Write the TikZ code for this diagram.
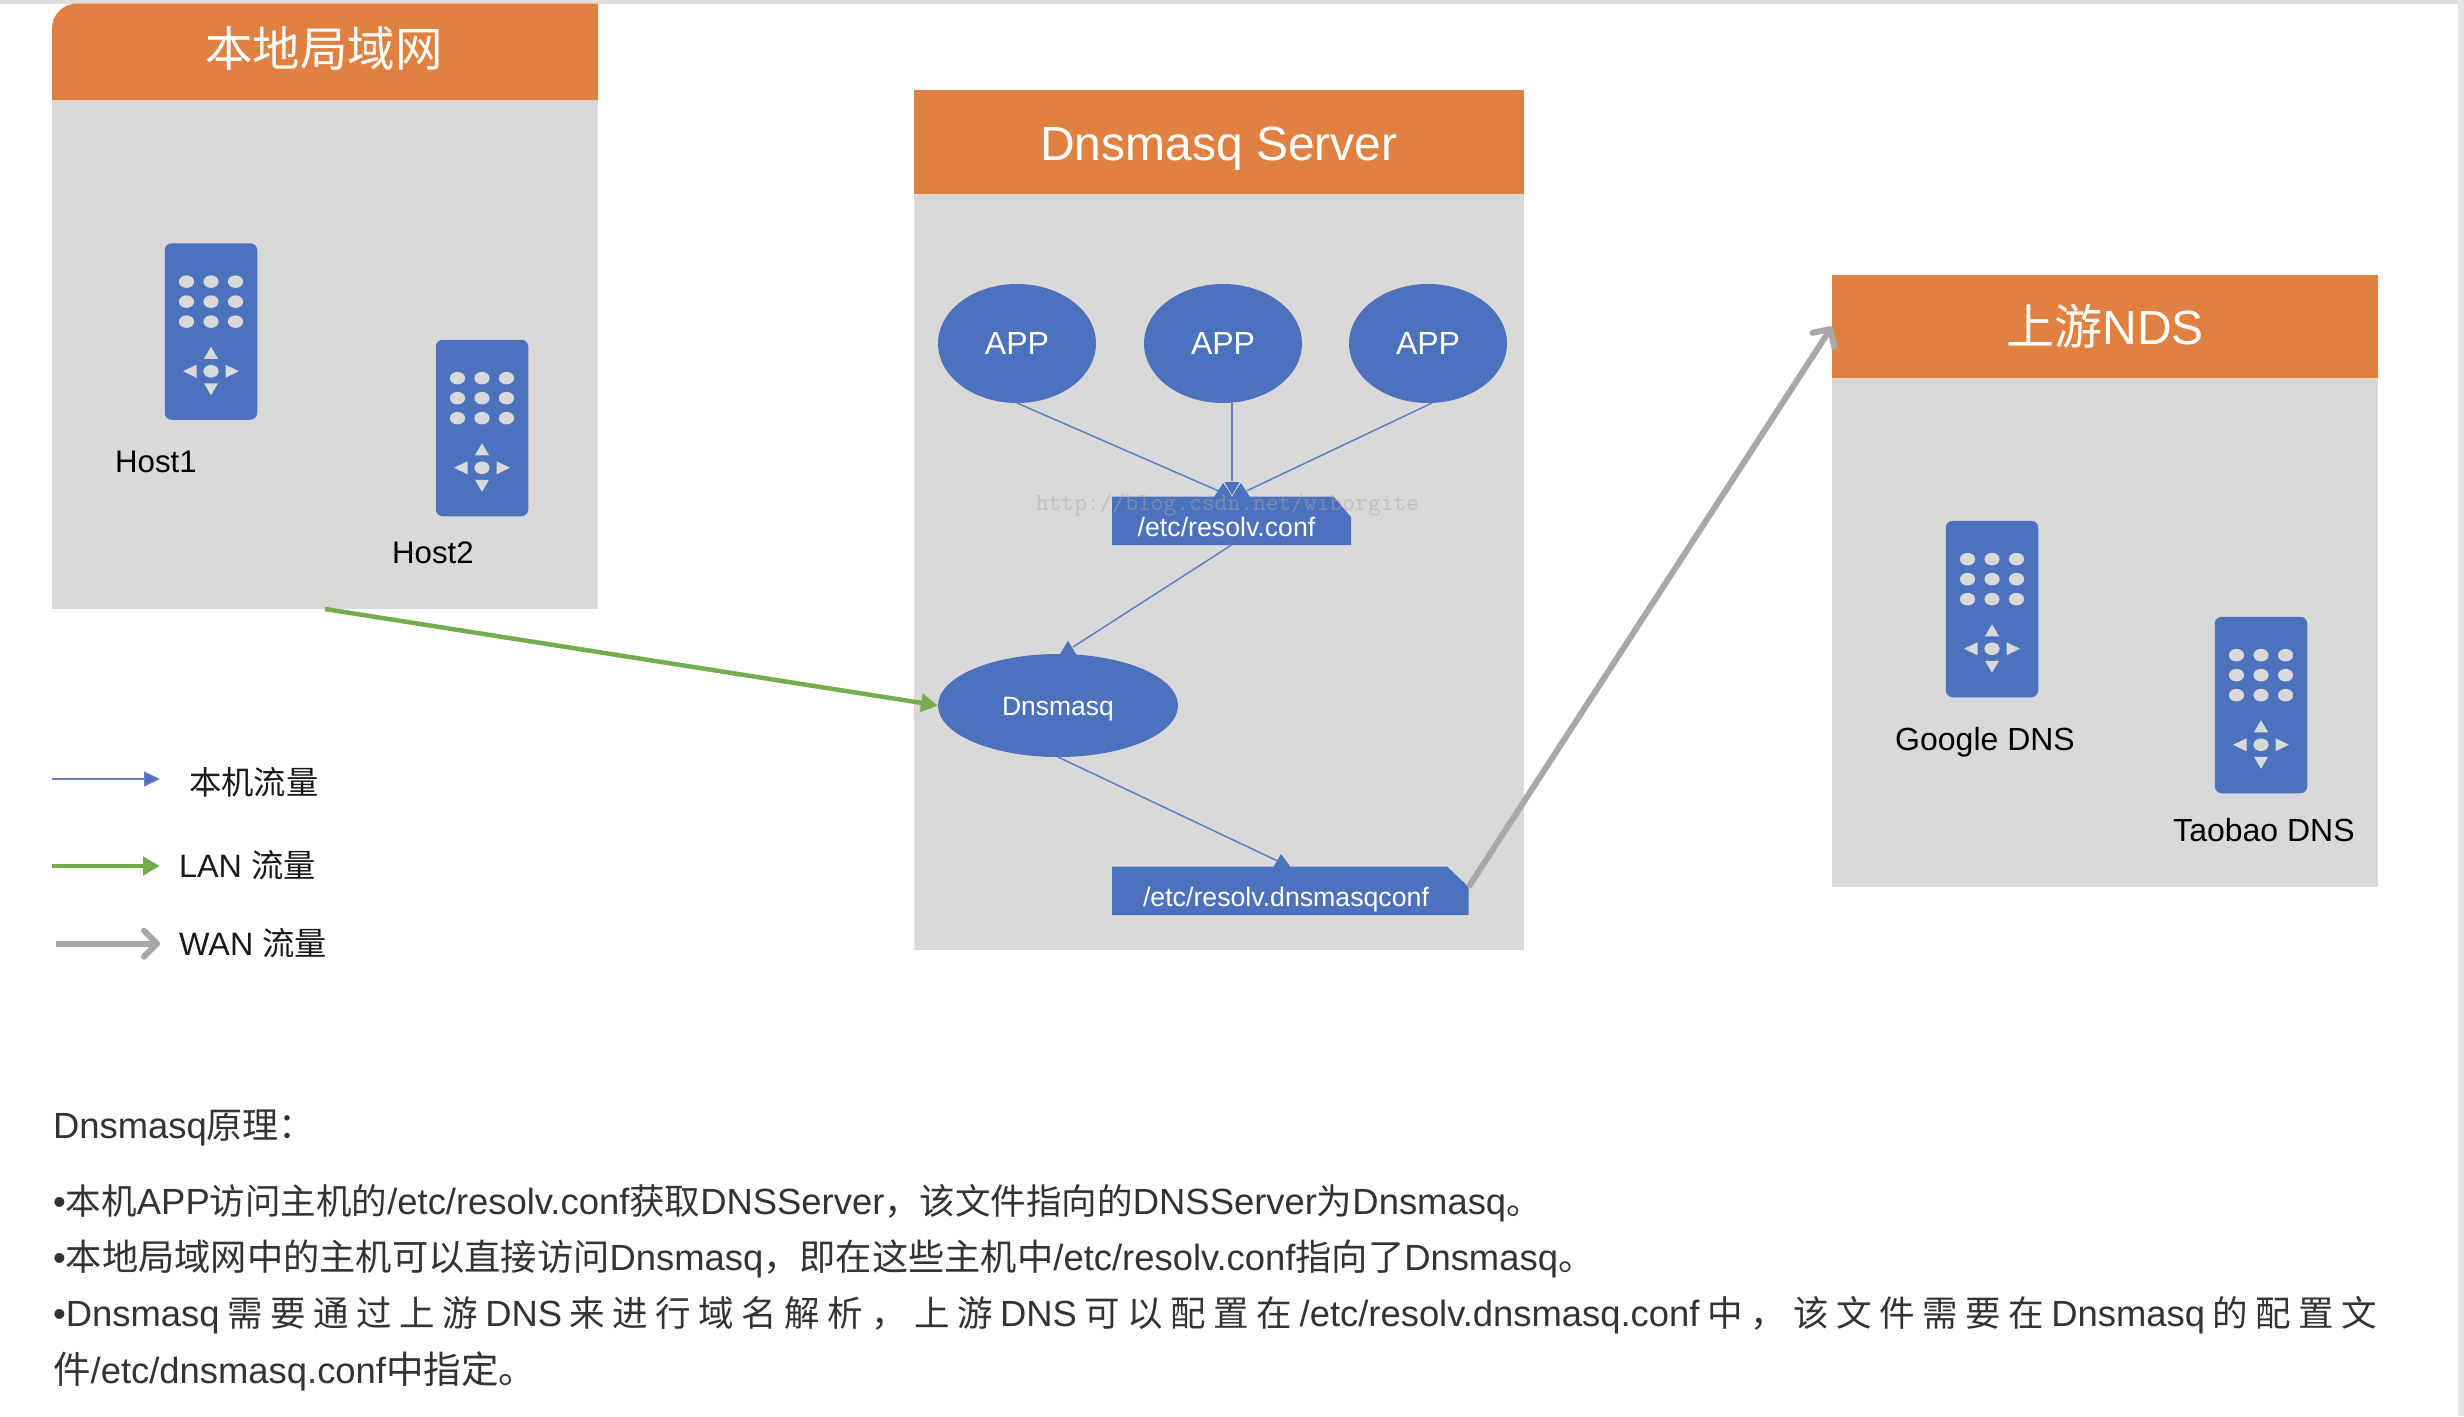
\documentclass[tikz,border=0pt]{standalone}
\usepackage{fontspec}
\setmainfont{Liberation Sans}
\newfontfamily\cjk{Noto Sans CJK SC}
\usetikzlibrary{shapes.geometric,arrows.meta}
\definecolor{boxgray}{HTML}{D9D9D9}
\definecolor{headorange}{HTML}{E08142}
\definecolor{iconblue}{HTML}{4C72BE}
\definecolor{wireblue}{HTML}{5F80C2}
\definecolor{langreen}{HTML}{74AD4E}
\definecolor{wangray}{HTML}{A8A8A8}
\definecolor{bodytext}{HTML}{333333}
\newcommand{\fsz}[1]{\fontsize{#1}{#1}\selectfont}
\newcommand{\zh}[1]{{\cjk #1}}
\newcommand{\zb}[2]{{\cjk\fsz{#1}#2}}
\newcommand{\gp}{\hskip 0pt plus 1fil\relax}
\tikzset{
  x=1pt,y=-1pt,
  panel/.style={rectangle,fill=boxgray,inner sep=0pt,outer sep=0pt},
  header/.style={rectangle,fill=headorange,text=white,inner sep=0pt,outer sep=0pt,font=\fsz{48}},
  iconbody/.style={rectangle,rounded corners=7pt,fill=iconblue,inner sep=0pt,outer sep=0pt,minimum width=92.5pt,minimum height=176.5pt},
  oval/.style={ellipse,fill=iconblue,text=white,inner sep=0pt,outer sep=0pt},
  appoval/.style={oval,minimum width=158pt,minimum height=119pt,font=\fsz{32}},
  docbox/.style={rectangle,inner sep=0pt,outer sep=0pt},
  doctext/.style={text=white,inner sep=0pt,font=\fsz{26.7},anchor=base},
  caption/.style={text=black,inner sep=0pt,font=\fsz{31.2},anchor=base west},
  legendtext/.style={text=black!90,inner sep=0pt,font=\fsz{32.3},anchor=base west},
  bodyline/.style={text=bodytext,inner sep=0pt,font=\fsz{36.4},anchor=base west},
  wire/.style={draw=wireblue,line width=1.5pt},
  wiretip/.style={fill=iconblue},
  lanwire/.style={draw=langreen,line width=4.5pt,-{Triangle[length=17pt,width=18pt,fill=langreen]}},
  wanwire/.style={draw=wangray,line width=6pt,-{Straight Barb[length=13pt,width=26pt,round]}},
  legblue/.style={draw=wireblue,line width=1.6pt,-{Triangle[length=16pt,width=15pt,fill=iconblue]}},
  remote/.pic={
    \foreach \dy in {38.4,58.4,78.4}{
      \foreach \dx in {-24.5,0,24.5}{
        \fill[boxgray] (\dx,\dy) ellipse [x radius=7.6,y radius=6.3];
      }
    }
    \fill[boxgray] (0,128) ellipse [x radius=7.6,y radius=6.3];
    \fill[boxgray] (0,103.5) -- (7,115.5) -- (-7,115.5) -- cycle;
    \fill[boxgray] (0,152) -- (7,140) -- (-7,140) -- cycle;
    \fill[boxgray] (-28,128) -- (-14.5,121.5) -- (-14.5,134.5) -- cycle;
    \fill[boxgray] (28,128) -- (14.5,121.5) -- (14.5,134.5) -- cycle;
  }
}
\begin{document}
\begin{tikzpicture}
\useasboundingbox (0,0) rectangle (2464,1416);
\fill[white] (0,0) rectangle (2464,1416);
% window edges
\fill[black!13] (0,0) rectangle (2464,3.5);
\fill[black!11] (2458,0) rectangle (2464,1416);

% local network panel
\node[panel,minimum width=546pt,minimum height=509pt] (lan) at (325,354.5) {};
\fill[headorange] (52,100) [rounded corners=25pt] -- (52,3.5) [sharp corners] -- (598,3.5) -- (598,100) -- cycle;
\node[text=white,inner sep=0pt,font=\fsz{47.5}] (lanhead) at (324,48) {\zh{本地局域网}};
\node[iconbody] (host1) at (211,331.5) {};
\pic at (host1.north) {remote};
\node[iconbody] (host2) at (482,428) {};
\pic at (host2.north) {remote};
\node[caption] (host1t) at (115,472.5) {Host1};
\node[caption] (host2t) at (392,563) {Host2};

% server panel
\node[panel,minimum width=610.5pt,minimum height=860pt] (server) at (1218.75,520) {};
\node[header,minimum width=610.5pt,minimum height=104pt,text height=37pt,text depth=0pt] (serverhead) at (1218.75,142) {Dnsmasq Server};
\node[appoval] (app1) at (1017,343.5) {APP};
\node[appoval] (app2) at (1223,343.5) {APP};
\node[appoval] (app3) at (1428,343.5) {APP};
\node[oval,minimum width=240pt,minimum height=103pt,font=\fsz{26.5},text height=20pt,text depth=0pt] (dns) at (1058,705.5) {Dnsmasq};

% resolv.conf
\node[docbox,minimum width=239pt,minimum height=48.5pt] (conf) at (1231.5,520.75) {};
\fill[iconblue] (conf.south west) -- (conf.north west) -- ([xshift=-17.5pt]conf.north east) -- ([yshift=-20.5pt]conf.north east) -- (conf.south east) -- cycle;
\node[doctext] (conft) at (1226.5,536) {/etc/resolv.conf};

% resolv.dnsmasqconf
\node[docbox,minimum width=356.5pt,minimum height=48.5pt] (conftwo) at (1290.3,890.75) {};
\fill[iconblue] (conftwo.south west) -- (conftwo.north west) -- ([xshift=-21.5pt]conftwo.north east) -- ([yshift=-20.5pt]conftwo.north east) -- (conftwo.south east) -- cycle;
\node[doctext] (conftwot) at (1286,906.5) {/etc/resolv.dnsmasqconf};

% blue wires with their heads
\coordinate (tipa) at (1218,490.7);
\coordinate (tipb) at (1232,482);
\coordinate (tipc) at (1247,490.7);
\coordinate (tipd) at (1073,647);
\coordinate (tipe) at (1277,860.7);
\draw[wire] (app1.south) -- (tipa);
\draw[wire] ([xshift=9pt]app2.south) -- (tipb);
\draw[wire] ([xshift=4pt]app3.south) -- (tipc);
\draw[wire] (conf.south) -- (tipd);
\draw[wire] (dns.south) -- (tipe);
\fill[wiretip] (1223,483) -- (1233,497) -- (1214,497) -- cycle;
\fill[wiretip] (1241,483) -- (1250,497) -- (1231,497) -- cycle;
\fill[boxgray] (1224,481) -- (1240,481) -- (1232,497) -- cycle;
\fill[wiretip] (1224.5,482) -- (1239.5,482) -- (1232,495) -- cycle;
\fill[wiretip] (1068,640.7) -- (1076.5,655) -- (1059.5,655) -- cycle;
\fill[wiretip] (1281,854) -- (1290.5,867) -- (1273.5,867) -- cycle;

% upstream panel
\node[panel,minimum width=546pt,minimum height=612pt] (up) at (2105,581) {};
\node[header,minimum width=546pt,minimum height=103pt] (uphead) at (2105,326.5) {\zh{上游}NDS};
\node[iconbody] (google) at (1992,609) {};
\pic at (google.north) {remote};
\node[iconbody] (taobao) at (2261,705) {};
\pic at (taobao.north) {remote};
\node[caption,font=\fsz{32}] (googlet) at (1895,750.5) {Google DNS};
\node[caption,font=\fsz{32}] (taobaot) at (2173,841.5) {Taobao DNS};

% traffic wires
\draw[lanwire] (lan.south) -- (dns.west);
\draw[wanwire] ([yshift=-20.5pt]conftwo.north east) -- (uphead.west);

% watermark
\node[inner sep=0pt,text=black!34,opacity=0.5,font=\ttfamily\fsz{24.8}] (mark) at (1227.5,504.5) {http://blog.csdn.net/wiborgite};

% legend
\coordinate (la) at (52,779);
\coordinate (lb) at (160,779);
\coordinate (lc) at (52,866);
\coordinate (ld) at (160,866);
\coordinate (le) at (56,943.7);
\coordinate (lf) at (160,943.7);
\draw[legblue] (la) -- (lb);
\draw[lanwire] (lc) -- (ld);
\draw[wanwire] (le) -- (lf);
\node[legendtext] (legt) at (189,794) {\zh{本机流量}};
\node[legendtext] (legu) at (179,877) {LAN \zh{流量}};
\node[legendtext] (legv) at (179,955) {WAN \zh{流量}};

% explanation
\node[bodyline] (ttl) at (53,1138) {Dnsmasq\zb{36}{原理：}};
\node[bodyline] (lna) at (53,1214) {•\zb{35.5}{本机}APP\zb{35.5}{访问主机的}/etc/resolv.conf\zb{35.5}{获取}DNSServer\zb{35.5}{，该文件指向的}DNSServer\zb{35.5}{为}Dnsmasq\zb{35.5}{。}};
\node[bodyline] (lnb) at (53,1270) {•\zb{36.25}{本地局域网中的主机可以直接访问}Dnsmasq\zb{36.25}{，即在这些主机中}/etc/resolv.conf\zb{36.25}{指向了}Dnsmasq\zb{36.25}{。}};
\node[bodyline] (lnc) at (53,1326) {\hbox to 2324pt{•Dnsmasq\gp{\cjk\fsz{35.5}需\gp 要\gp 通\gp 过\gp 上\gp 游}\gp DNS\gp{\cjk\fsz{35.5}来\gp 进\gp 行\gp 域\gp 名\gp 解\gp 析\gp ，\gp 上\gp 游}\gp DNS\gp{\cjk\fsz{35.5}可\gp 以\gp 配\gp 置\gp 在}\gp /etc/resolv.dnsmasq.conf\gp{\cjk\fsz{35.5}中\gp ，\gp 该\gp 文\gp 件\gp 需\gp 要\gp 在}\gp Dnsmasq\gp{\cjk\fsz{35.5}的\gp 配\gp 置\gp 文}}};
\node[bodyline] (lnd) at (53,1383) {\zb{37.5}{件}/etc/dnsmasq.conf\zb{37.5}{中指定。}};
\end{tikzpicture}
\end{document}
